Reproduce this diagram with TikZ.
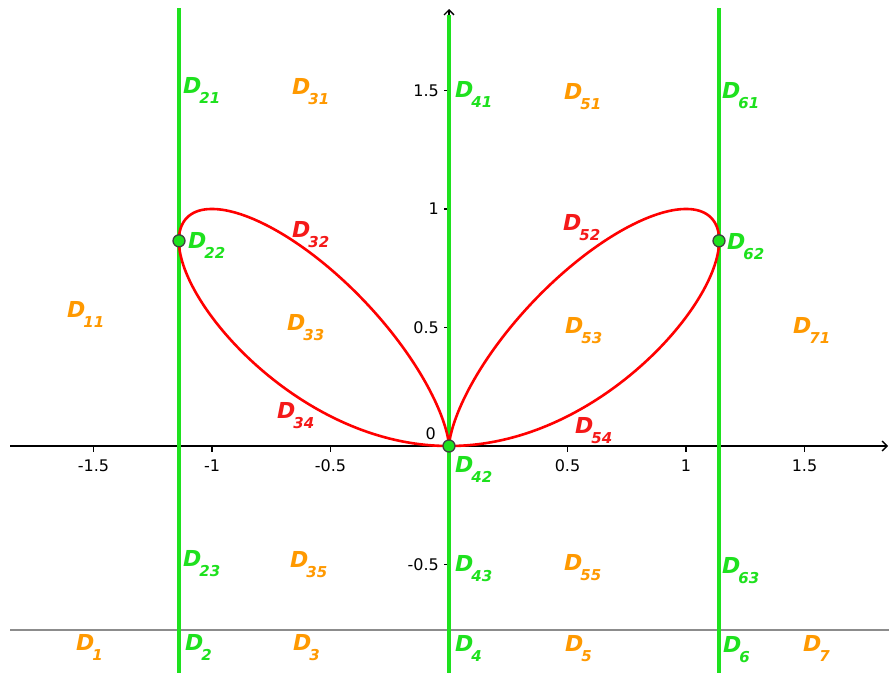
\documentclass[tikz,border=0pt]{standalone}
\usepackage{fontspec}
\setmainfont{DejaVu Sans}
\usetikzlibrary{arrows.meta}
\definecolor{lgreen}{RGB}{30,225,30}
\definecolor{torange}{RGB}{255,153,0}
\definecolor{cred}{RGB}{255,0,0}
\definecolor{tred}{RGB}{245,25,25}
\definecolor{gline}{RGB}{140,140,140}
\newcommand\Dlab[1]{D\kern-2pt\raisebox{-10pt}{\fontsize{15}{15}\selectfont #1}}
\tikzset{
  lbl/.style={font=\fontsize{22}{22}\selectfont\bfseries\itshape, anchor=base west, inner sep=0pt},
  glbl/.style={lbl, text=lgreen},
  olbl/.style={lbl, text=torange},
  rlbl/.style={lbl, text=tred},
  tick/.style={font=\fontsize{16}{16}\selectfont, inner sep=0pt, text=black},
  axisline/.style={line width=1.3pt, black},
  vline/.style={line width=3.2pt, lgreen},
  pt/.style={circle, fill=lgreen, draw=black!75, line width=1.3pt, minimum size=12pt, inner sep=0pt},
}
\begin{document}
\begin{tikzpicture}[x=1pt,y=-1pt]
\useasboundingbox (0,0) rectangle (889,673);
\fill[white] (0,0) rectangle (889,673);
% gray line
\coordinate (gl) at (10,630);
\coordinate (gr) at (889,630);
\draw[line width=1.8pt, gline] (gl) -- (gr);
% axes
\coordinate (xl) at (10,446);
\coordinate (xr) at (888,446);
\coordinate (yb) at (449,673);
\coordinate (yt) at (449,9);
\draw[axisline, -{Straight Barb[length=5pt,width=10pt]}] (xl) -- (xr);
\draw[axisline, -{Straight Barb[length=5pt,width=10pt]}] (yb) -- (yt);
% x ticks
\foreach \v/\t in {-1.5/-1.5,-1/-1,-0.5/-0.5,0.5/0.5,1/1,1.5/1.5}{
  \draw[line width=1.2pt] ({449+237*\v},446) -- ({449+237*\v},452);
  \node[tick] at ({449+237*\v},466) {\t};
}
% y ticks
\foreach \v/\t in {1.5/1.5,1/1,0.5/0.5,-0.5/-0.5}{
  \draw[line width=1.2pt] (444,{446-237*\v}) -- (449,{446-237*\v});
  \node[tick, anchor=east] at (439,{446-237*\v}) {\t};
}
\node[tick, anchor=east] (zero) at (436,434) {0};
% green vertical lines
\coordinate (l1t) at (179,8);   \coordinate (l1b) at (179,673);
\coordinate (l2t) at (449,15);  \coordinate (l2b) at (449,673);
\coordinate (l3t) at (719,8);   \coordinate (l3b) at (719,673);
\draw[vline] (l1t) -- (l1b);
\draw[vline] (l2t) -- (l2b);
\draw[vline] (l3t) -- (l3b);
% curve x^4+y^4 = 2x^2 y
\draw[cred, line width=2.6pt, line join=round] plot[domain=0:180, samples=721, variable=\t]
  ({449+237*2*cos(\t)*cos(\t)*cos(\t)*sin(\t)/(cos(\t)^4+sin(\t)^4)},
   {446-237*2*cos(\t)*cos(\t)*sin(\t)*sin(\t)/(cos(\t)^4+sin(\t)^4)});
% points
\node[pt] (pA) at (179,240.8) {};
\node[pt] (pB) at (719,240.8) {};
\node[pt] (pO) at (449,446) {};
% labels
\node[glbl] at (183,93) {\Dlab{21}};
\node[olbl] at (292,94) {\Dlab{31}};
\node[glbl] at (455,97) {\Dlab{41}};
\node[olbl] at (564,99) {\Dlab{51}};
\node[glbl] at (722,98) {\Dlab{61}};
\node[glbl] at (188,248) {\Dlab{22}};
\node[rlbl] at (292,237) {\Dlab{32}};
\node[rlbl] at (563,230) {\Dlab{52}};
\node[glbl] at (727,249) {\Dlab{62}};
\node[olbl] at (67,317) {\Dlab{11}};
\node[olbl] at (287,330) {\Dlab{33}};
\node[olbl] at (565,333) {\Dlab{53}};
\node[olbl] at (793,333) {\Dlab{71}};
\node[rlbl] at (277,418) {\Dlab{34}};
\node[rlbl] at (575,433) {\Dlab{54}};
\node[glbl] at (455,472) {\Dlab{42}};
\node[glbl] at (183,566) {\Dlab{23}};
\node[olbl] at (290,567) {\Dlab{35}};
\node[glbl] at (455,571) {\Dlab{43}};
\node[olbl] at (564,570) {\Dlab{55}};
\node[glbl] at (722,573) {\Dlab{63}};
\node[olbl] at (76,650) {\Dlab{1}};
\node[glbl] at (185,650) {\Dlab{2}};
\node[olbl] at (293,650) {\Dlab{3}};
\node[glbl] at (455,651) {\Dlab{4}};
\node[olbl] at (565,651) {\Dlab{5}};
\node[glbl] at (723,652) {\Dlab{6}};
\node[olbl] at (803,651) {\Dlab{7}};
\end{tikzpicture}
\end{document}
